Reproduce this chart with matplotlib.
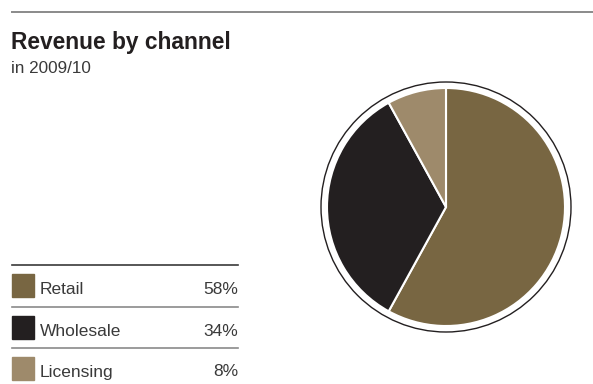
import matplotlib
matplotlib.use("Agg")
import matplotlib.pyplot as plt
from matplotlib.patches import Rectangle, Circle
from matplotlib.lines import Line2D

plt.rcParams['font.family'] = ['Liberation Sans', 'DejaVu Sans']

title = "Revenue by channel"
subtitle = "in 2009/10"
channels = ["Retail", "Wholesale", "Licensing"]
shares = [58, 34, 8]
colors = ["#786642", "#231f20", "#9e8a6b"]

W, H = 593, 384
fig = plt.figure(figsize=(W / 100, H / 100), dpi=100)


def fx(x):
    return x / W


def fy(y):
    return 1 - y / H


# top rule
fig.add_artist(Line2D([fx(12), fx(593)], [fy(11.5), fy(11.5)], color="#8a8a8a", lw=1.4))

fig.text(fx(11), fy(49), title, fontsize=16.4, fontweight="bold", color="#231f20", va="baseline")
fig.text(fx(11), fy(73), subtitle, fontsize=12.3, color="#3a3a3a", va="baseline")

# legend table
row_lines = [265, 307, 348]
row_line_colors = ["#3a3a3a", "#8a8a8a", "#8a8a8a"]
swatch_tops = [274, 316, 357]
baselines = [294.5, 335.5, 376.5]
for i, name in enumerate(channels):
    fig.add_artist(Line2D([fx(12), fx(238)], [fy(row_lines[i]), fy(row_lines[i])],
                          color=row_line_colors[i], lw=1.2))
    fig.add_artist(Rectangle((fx(12), fy(swatch_tops[i] + 23)), 22 / W, 23 / H,
                             color=colors[i], transform=fig.transFigure))
    fig.text(fx(39.5), fy(baselines[i]), name, fontsize=12.5, color="#3a3a3a", va="baseline")
    fig.text(fx(238), fy(baselines[i]), f"{shares[i]}%", fontsize=12.5, color="#3a3a3a",
             va="baseline", ha="right")

# pie
cx, cy, r = 446, 207, 119
half = 130
ax = fig.add_axes([fx(cx - half), fy(cy + half), 2 * half / W, 2 * half / H])
ax.pie(shares, colors=colors, startangle=90, counterclock=False, radius=1,
       wedgeprops=dict(edgecolor="white", linewidth=1.5))
ax.add_patch(Circle((0, 0), 125 / r, fill=False, edgecolor="#231f20", lw=1.0))
lim = half / r
ax.set_xlim(-lim, lim)
ax.set_ylim(-lim, lim)
ax.set_aspect("equal")
ax.axis("off")

fig.savefig("out.png", dpi=100)
